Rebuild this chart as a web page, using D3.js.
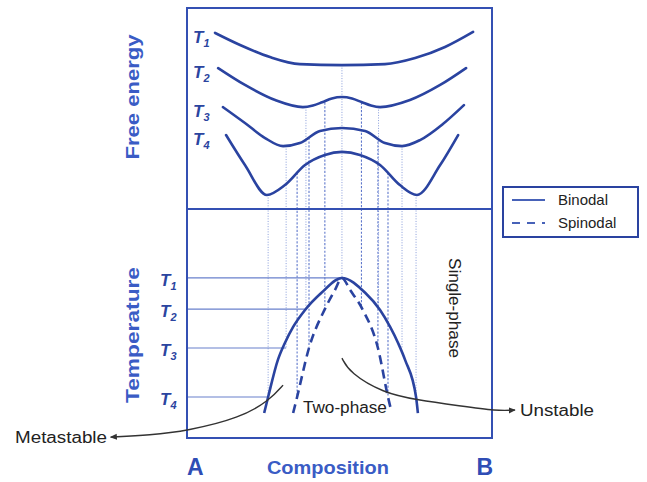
<!DOCTYPE html>
<html>
<head>
<meta charset="utf-8">
<script src="https://cdn.jsdelivr.net/npm/d3@7"></script>
<style>
  body { margin: 0; background: #fff; }
  svg { display: block; font-family: "Liberation Sans", Arial, sans-serif; }
</style>
</head>
<body>
<svg id="chart" width="647" height="482"></svg>
<script>
// composition is mole fraction of B (0 = A, 1 = B); energy and temperature in arbitrary units
const tempNames = ["1", "2", "3", "4"];
const tempValues = [69.9, 56.3, 39.3, 17.9];

const freeEnergyT1 = [[0.092, 87.6], [0.174, 81.6], [0.272, 75.6], [0.370, 72.1], [0.508, 71.6],
  [0.649, 72.1], [0.748, 75.1], [0.846, 80.6], [0.938, 88.1]];
const freeEnergyT2 = [[0.102, 70.1], [0.190, 61.7], [0.289, 54.2], [0.380, 50.7], [0.413, 51.5],
  [0.443, 53.1], [0.475, 55.0], [0.508, 55.7], [0.541, 55.0], [0.574, 53.1], [0.603, 51.5],
  [0.633, 50.7], [0.731, 54.2], [0.830, 61.7], [0.915, 70.1]];
const freeEnergyT3 = [[0.118, 50.7], [0.190, 42.8], [0.256, 35.3], [0.315, 31.3], [0.370, 32.8],
  [0.436, 38.8], [0.508, 40.3], [0.584, 38.8], [0.649, 32.8], [0.705, 31.3], [0.764, 34.3],
  [0.839, 42.3], [0.908, 51.7]];
const freeEnergyT4 = [[0.128, 36.8], [0.190, 21.9], [0.262, 7.0], [0.321, 11.9], [0.387, 21.9],
  [0.452, 26.9], [0.508, 28.4], [0.567, 26.9], [0.633, 21.9], [0.698, 11.9], [0.754, 7.0],
  [0.830, 21.9], [0.889, 36.8]];

// tangent (binodal) and inflection (spinodal) compositions at each temperature
const binodalLeft = [0.508, 0.390, 0.325, 0.266];
const binodalRight = [0.508, 0.628, 0.705, 0.751];
const binodalEnergy = [71.6, 50.7, 31.3, 7.0];
const spinodalLeft = [null, 0.452, 0.400, 0.361];
const spinodalRight = [null, 0.572, 0.626, 0.659];
const spinodalEnergy = [null, 53.0, 35.5, 18.0];

// phase diagram domes [composition, temperature]
const binodalDome = [[0.253, 10.9], [0.266, 17.9], [0.298, 34.1], [0.321, 41.5], [0.348, 48.5],
  [0.387, 55.9], [0.440, 63.3], [0.508, 69.9], [0.585, 63.3], [0.633, 55.9], [0.666, 48.5],
  [0.692, 41.5], [0.715, 34.1], [0.751, 17.9], [0.757, 10.9]];
const spinodalDome = [[0.348, 10.9], [0.361, 17.9], [0.400, 39.3], [0.452, 56.3], [0.485, 64.6],
  [0.508, 69.9], [0.535, 64.6], [0.575, 56.3], [0.626, 39.3], [0.659, 17.9], [0.669, 12.2]];

// annotation arrows [composition, temperature]
const metastableArrow = [[0.315, 23.1], [0.272, 16.6], [0.174, 8.7], [0.0, 3.1], [-0.121, 1.3], [-0.250, 0.4]];
const unstableArrow = [[0.508, 34.9], [0.534, 28.4], [0.643, 19.7], [0.754, 16.6], [0.895, 14.0], [1.016, 11.8], [1.075, 12.2]];

const navy = "#2a43a0";
const boxBlue = "#3450b3";
const guideBlue = "#7c92d6";
const titleBlue = "#3a5cc5";

const svg = d3.select("#chart");
const box = { left: 187, right: 492, top: 8, mid: 209, bottom: 438 };

const x = d3.scaleLinear().domain([0, 1]).range([box.left, box.right]);
const yG = d3.scaleLinear().domain([0, 100]).range([box.mid, box.top]);
const yT = d3.scaleLinear().domain([0, 100]).range([box.bottom, box.mid]);

const energyLine = d3.line().x(d => x(d[0])).y(d => yG(d[1])).curve(d3.curveMonotoneX);
const tempLine = d3.line().x(d => x(d[0])).y(d => yT(d[1])).curve(d3.curveMonotoneX);

const defs = svg.append("defs");
defs.append("marker")
  .attr("id", "head")
  .attr("viewBox", "0 -4 8 8")
  .attr("refX", 7).attr("refY", 0)
  .attr("markerWidth", 7).attr("markerHeight", 7)
  .attr("markerUnits", "userSpaceOnUse")
  .attr("orient", "auto")
  .append("path").attr("d", "M0,-3.5L8,0L0,3.5Z").attr("fill", "#333");

// vertical guides from the free energy curves down to the phase diagram
const guides = [];
tempValues.forEach((t, i) => {
  guides.push({ c: binodalLeft[i], g: binodalEnergy[i], t, kind: "b" });
  if (i > 0) guides.push({ c: binodalRight[i], g: binodalEnergy[i], t, kind: "b" });
  if (spinodalLeft[i] != null) {
    guides.push({ c: spinodalLeft[i], g: spinodalEnergy[i], t, kind: "s" });
    guides.push({ c: spinodalRight[i], g: spinodalEnergy[i], t, kind: "s" });
  }
});
svg.append("g").selectAll("line").data(guides).join("line")
  .attr("x1", d => x(d.c)).attr("x2", d => x(d.c))
  .attr("y1", d => yG(d.g)).attr("y2", d => yT(d.t))
  .attr("stroke", d => d.kind === "b" ? guideBlue : "#5f78cc")
  .attr("stroke-width", d => d.kind === "b" ? 0.9 : 1.1)
  .attr("stroke-dasharray", d => d.kind === "b" ? "1 1.6" : "2.2 1.6");

// horizontal temperature lines
svg.append("g").selectAll("line").data(tempValues).join("line")
  .attr("x1", x(0)).attr("x2", (d, i) => x(binodalLeft[i]))
  .attr("y1", d => yT(d)).attr("y2", d => yT(d))
  .attr("stroke", "#6880cc").attr("stroke-width", 1.2);

// free energy curves
const energyCurves = [freeEnergyT1, freeEnergyT2, freeEnergyT3, freeEnergyT4];
svg.append("g").selectAll("path").data(energyCurves).join("path")
  .attr("d", energyLine)
  .attr("fill", "none").attr("stroke", navy).attr("stroke-width", 2.6)
  .attr("stroke-linecap", "round");

// binodal and spinodal domes
svg.append("path").attr("d", tempLine(binodalDome))
  .attr("fill", "none").attr("stroke", navy).attr("stroke-width", 2.6);
svg.append("path").attr("d", tempLine(spinodalDome))
  .attr("fill", "none").attr("stroke", navy).attr("stroke-width", 2.6)
  .attr("stroke-dasharray", "9 5.5");

// frame
svg.append("rect")
  .attr("x", box.left).attr("y", box.top)
  .attr("width", box.right - box.left).attr("height", box.bottom - box.top)
  .attr("fill", "none").attr("stroke", boxBlue).attr("stroke-width", 2);
svg.append("line")
  .attr("x1", box.left).attr("x2", box.right)
  .attr("y1", box.mid).attr("y2", box.mid)
  .attr("stroke", boxBlue).attr("stroke-width", 2);

// temperature labels
function tLabel(sel) {
  sel.attr("font-weight", "bold").attr("font-style", "italic").attr("fill", "#2b449f")
    .attr("font-size", 17)
    .text("T")
    .append("tspan").attr("dy", 4).attr("font-size", 11).text(d => d);
}
svg.append("g").selectAll("text").data(tempNames).join("text")
  .attr("x", 193)
  .attr("y", (d, i) => yG(energyCurves[i][0][1]) + 10)
  .call(tLabel);
svg.append("g").selectAll("text").data(tempNames).join("text")
  .attr("x", 160)
  .attr("y", (d, i) => yT(tempValues[i]) + 8)
  .call(tLabel);

// axis titles
svg.append("text")
  .attr("transform", "translate(139,97) rotate(-90)")
  .attr("text-anchor", "middle")
  .attr("font-size", 18).attr("font-weight", "bold").attr("fill", titleBlue)
  .attr("textLength", 125).attr("lengthAdjust", "spacingAndGlyphs")
  .text("Free energy");
svg.append("text")
  .attr("transform", "translate(139,335) rotate(-90)")
  .attr("text-anchor", "middle")
  .attr("font-size", 18).attr("font-weight", "bold").attr("fill", titleBlue)
  .attr("textLength", 136).attr("lengthAdjust", "spacingAndGlyphs")
  .text("Temperature");
svg.append("text")
  .attr("x", x(0.462)).attr("y", 474)
  .attr("text-anchor", "middle")
  .attr("font-size", 18).attr("font-weight", "bold").attr("fill", titleBlue)
  .attr("textLength", 122).attr("lengthAdjust", "spacingAndGlyphs")
  .text("Composition");
svg.append("text")
  .attr("x", x(0)).attr("y", 475)
  .attr("font-size", 23).attr("font-weight", "bold").attr("fill", "#2f4db5")
  .text("A");
svg.append("text")
  .attr("x", x(1) + 1).attr("y", 475).attr("text-anchor", "end")
  .attr("font-size", 23).attr("font-weight", "bold").attr("fill", "#2f4db5")
  .text("B");

// region labels
svg.append("text")
  .attr("x", x(0.380)).attr("y", 413)
  .attr("font-size", 16).attr("fill", "#222")
  .attr("textLength", 84).attr("lengthAdjust", "spacingAndGlyphs")
  .text("Two-phase");
svg.append("text")
  .attr("transform", "translate(449,308) rotate(90)")
  .attr("text-anchor", "middle")
  .attr("font-size", 16).attr("fill", "#222")
  .attr("textLength", 100).attr("lengthAdjust", "spacingAndGlyphs")
  .text("Single-phase");

// annotation arrows
const arrowLine = d3.line().x(d => x(d[0])).y(d => yT(d[1])).curve(d3.curveBasis);
[metastableArrow, unstableArrow].forEach(a => {
  svg.append("path").attr("d", arrowLine(a))
    .attr("fill", "none").attr("stroke", "#333").attr("stroke-width", 1.4)
    .attr("marker-end", "url(#head)");
});
svg.append("text")
  .attr("x", 107).attr("y", 443).attr("text-anchor", "end")
  .attr("font-size", 16).attr("fill", "#222")
  .attr("textLength", 92).attr("lengthAdjust", "spacingAndGlyphs")
  .text("Metastable");
svg.append("text")
  .attr("x", 520).attr("y", 416)
  .attr("font-size", 16).attr("fill", "#222")
  .attr("textLength", 74).attr("lengthAdjust", "spacingAndGlyphs")
  .text("Unstable");

// legend
const legend = svg.append("g").attr("transform", "translate(503,187)");
legend.append("rect").attr("width", 135).attr("height", 50)
  .attr("fill", "#fff").attr("stroke", navy).attr("stroke-width", 2);
const legendItems = ["Binodal", "Spinodal"];
legendItems.forEach((name, i) => {
  legend.append("line")
    .attr("x1", 9).attr("x2", 42).attr("y1", 13 + i * 23).attr("y2", 13 + i * 23)
    .attr("stroke", "#4762b8").attr("stroke-width", 2)
    .attr("stroke-dasharray", i === 1 ? "8 7" : null);
  legend.append("text")
    .attr("x", 55).attr("y", 18 + i * 23)
    .attr("font-size", 15).attr("fill", "#222")
    .text(name);
});
</script>
</body>
</html>
